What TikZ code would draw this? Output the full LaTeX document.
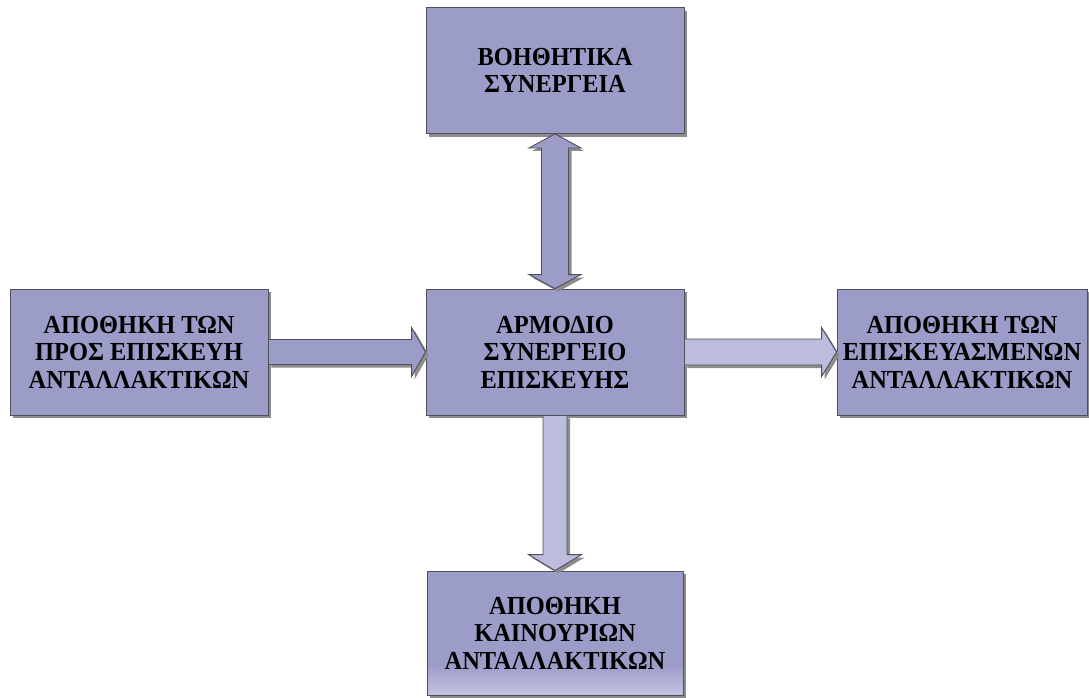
\documentclass[tikz,border=0pt]{standalone}
\usepackage{fontspec}
\setmainfont{Liberation Serif}[FakeStretch=0.94]
\usetikzlibrary{calc,shadows}
\definecolor{boxfill}{HTML}{9C9CC9}
\definecolor{boxlow}{HTML}{C4C4E2}
\definecolor{lightfill}{HTML}{BCBCDD}
\definecolor{edgegray}{HTML}{50505C}
\definecolor{shadowgray}{HTML}{8C8C8C}
% fill that lightens towards the lower edge
\pgfdeclareverticalshading{lowlight}{100bp}{color(0bp)=(boxlow); color(25bp)=(boxlow);
  color(37bp)=(boxfill); color(100bp)=(boxfill)}
\begin{document}
\begin{tikzpicture}[x=1pt,y=-1pt,
  softshadow/.style={drop shadow={shadow xshift=3pt,shadow yshift=-3pt,fill=shadowgray,opacity=1}},
  unit/.style={draw=edgegray, line width=0.9pt, fill=boxfill, softshadow,
    minimum width=258pt, minimum height=126pt, inner sep=0pt, align=center,
    font=\fontsize{26}{27.5}\selectfont\bfseries},
  flow/.style={draw=edgegray, line width=0.9pt, fill=boxfill, softshadow, line join=miter},
  flowlight/.style={flow, fill=lightfill}]
\useasboundingbox (0,0) rectangle (1089,697);

% boxes
\node[unit] (aux) at (555,70.5) {ΒΟΗΘΗΤΙΚΑ\\ΣΥΝΕΡΓΕΙΑ};
\node[unit] (store) at (139,352) {ΑΠΟΘΗΚΗ ΤΩΝ\\ΠΡΟΣ ΕΠΙΣΚΕΥΗ\\ΑΝΤΑΛΛΑΚΤΙΚΩΝ};
\node[unit] (repair) at (555,352) {ΑΡΜΟΔΙΟ\\ΣΥΝΕΡΓΕΙΟ\\ΕΠΙΣΚΕΥΗΣ};
\node[unit, minimum width=250pt] (done) at (962,352) {ΑΠΟΘΗΚΗ ΤΩΝ\\ΕΠΙΣΚΕΥΑΣΜΕΝΩΝ\\ΑΝΤΑΛΛΑΚΤΙΚΩΝ};
\node[unit, minimum width=256pt, minimum height=124pt, shading=lowlight] (newparts) at (555,633) {ΑΠΟΘΗΚΗ\\ΚΑΙΝΟΥΡΙΩΝ\\ΑΝΤΑΛΛΑΚΤΙΚΩΝ};

% block arrow: store -> repair
\path[flow] ($(store.east)+(0,-12.5)$) -- ($(repair.west)+(-14,-12.5)$)
  -- ($(repair.west)+(-14,-24.5)$) -- (repair.west) -- ($(repair.west)+(-14,24.5)$)
  -- ($(repair.west)+(-14,12.5)$) -- ($(store.east)+(0,12.5)$) -- cycle;

% block arrow: repair -> done
\path[flowlight] ($(repair.east)+(0,-13)$) -- ($(done.west)+(-15,-13)$)
  -- ($(done.west)+(-15,-24.5)$) -- (done.west) -- ($(done.west)+(-15,24.5)$)
  -- ($(done.west)+(-15,13)$) -- ($(repair.east)+(0,13)$) -- cycle;

% block arrow: repair -> newparts
\path[flowlight] ($(repair.south)+(-12,0)$) -- ($(newparts.north)+(-12,-16)$)
  -- ($(newparts.north)+(-26.5,-16)$) -- (newparts.north) -- ($(newparts.north)+(26.5,-16)$)
  -- ($(newparts.north)+(12,-16)$) -- ($(repair.south)+(12,0)$) -- cycle;

% double block arrow: aux <-> repair
\path[flow] (aux.south) -- ($(aux.south)+(26,14)$) -- ($(aux.south)+(13.5,14)$)
  -- ($(repair.north)+(13.5,-14)$) -- ($(repair.north)+(26,-14)$) -- (repair.north)
  -- ($(repair.north)+(-26,-14)$) -- ($(repair.north)+(-13.5,-14)$)
  -- ($(aux.south)+(-13.5,14)$) -- ($(aux.south)+(-26,14)$) -- cycle;
\end{tikzpicture}
\end{document}
